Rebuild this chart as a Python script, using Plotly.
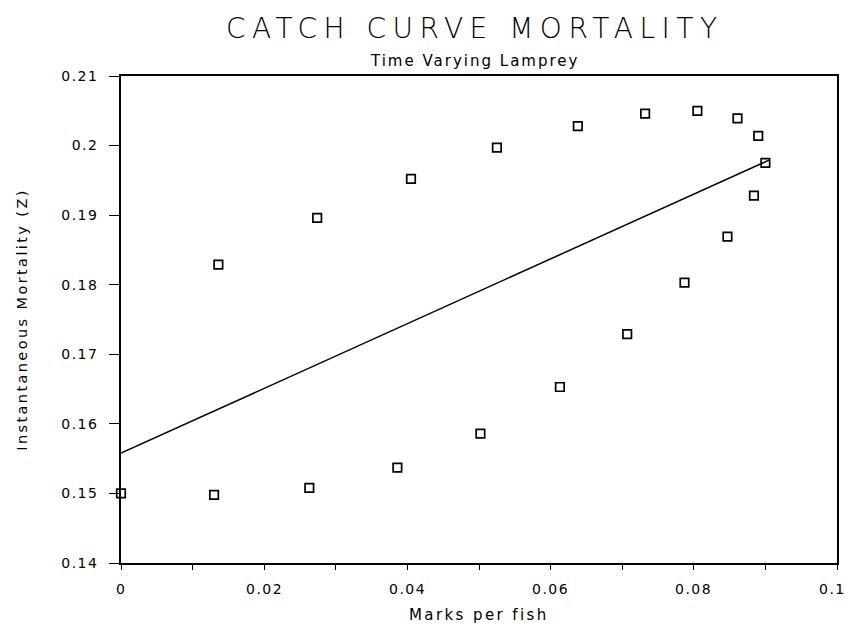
import plotly.graph_objects as go

# Observed catch-curve mortality against marks per fish
marks_per_fish = [0.0, 0.0130, 0.0263, 0.0386, 0.0502, 0.0613, 0.0707, 0.0787,
                  0.0847, 0.0884, 0.0900, 0.0890, 0.0861, 0.0805, 0.0732, 0.0638,
                  0.0525, 0.0405, 0.0274, 0.0136]
mortality_z = [0.1500, 0.1498, 0.1508, 0.1537, 0.1586, 0.1653, 0.1729, 0.1803,
               0.1869, 0.1928, 0.1975, 0.2014, 0.2039, 0.2050, 0.2046, 0.2028,
               0.1997, 0.1952, 0.1896, 0.1829]

# Fitted linear trend, drawn between its end points
fit_x = [0.0, 0.0905]
fit_y = [0.1558, 0.1979]

x_ticks = [0, 0.02, 0.04, 0.06, 0.08, 0.1]
x_tick_text = ["0", "0.02", "0.04", "0.06", "0.08", "0.1"]
y_ticks = [0.14, 0.15, 0.16, 0.17, 0.18, 0.19, 0.2, 0.21]
y_tick_text = ["0.14", "0.15", "0.16", "0.17", "0.18", "0.19", "0.2", "0.21"]

FONT = "DejaVu Sans"


def spaced(text, px):
    """Wrap text in a span with extra letter spacing (plotter-style lettering)."""
    return f'<span style="letter-spacing:{px}px">{text}</span>'


fig = go.Figure()
fig.add_trace(go.Scatter(
    x=fit_x, y=fit_y, mode="lines",
    line=dict(color="black", width=1.5),
    showlegend=False, hoverinfo="skip",
))
fig.add_trace(go.Scatter(
    x=marks_per_fish, y=mortality_z, mode="markers",
    marker=dict(symbol="square-open", size=8.5, color="black",
                line=dict(width=1.7, color="black")),
    showlegend=False, cliponaxis=False,
))

fig.update_layout(
    width=849, height=626,
    margin=dict(l=121, r=10, t=76, b=63),
    paper_bgcolor="white", plot_bgcolor="white",
    font=dict(family=FONT, color="black", size=13),
    xaxis=dict(
        range=[0, 0.1], showgrid=False, zeroline=False,
        showline=True, linecolor="black", linewidth=1.6, mirror=True,
        ticks="outside", ticklen=5, tickwidth=1, tickcolor="black",
        tick0=0, dtick=0.01, tickmode="linear",
        showticklabels=False,
    ),
    yaxis=dict(
        range=[0.14, 0.21], showgrid=False, zeroline=False,
        showline=True, linecolor="black", linewidth=1.6, mirror=True,
        ticks="outside", ticklen=10, tickwidth=1, tickcolor="black",
        tickmode="array", tickvals=y_ticks,
        ticktext=[spaced(t, 1.5) for t in y_tick_text],
        tickfont=dict(size=14), ticklabelstandoff=8,
        title=dict(text=spaced("Instantaneous Mortality (Z)", 2.4),
                   font=dict(size=14.5), standoff=30),
    ),
)

# x tick labels placed as annotations below the axis
for v, t in zip(x_ticks, x_tick_text):
    fig.add_annotation(x=v, y=0, xref="x", yref="paper", text=spaced(t, 1.5),
                       showarrow=False, yanchor="top", yshift=-16,
                       xshift=-5 if v == x_ticks[-1] else 0,
                       font=dict(size=14))

fig.add_annotation(x=0.5, y=0, xref="paper", yref="paper",
                   text=spaced("Marks per fish", 2.4),
                   showarrow=False, yanchor="top", yshift=-41, font=dict(size=15))
fig.add_annotation(x=0.494, y=1, xref="paper", yref="paper",
                   text=spaced("CATCH CURVE MORTALITY", 6.5),
                   showarrow=False, yanchor="bottom", yshift=29,
                   font=dict(size=28, family=FONT, weight=300))
fig.add_annotation(x=0.494, y=1, xref="paper", yref="paper",
                   text=spaced("Time Varying Lamprey", 2.0),
                   showarrow=False, yanchor="bottom", yshift=4,
                   font=dict(size=15, family=FONT))

fig.write_html("out.html")
